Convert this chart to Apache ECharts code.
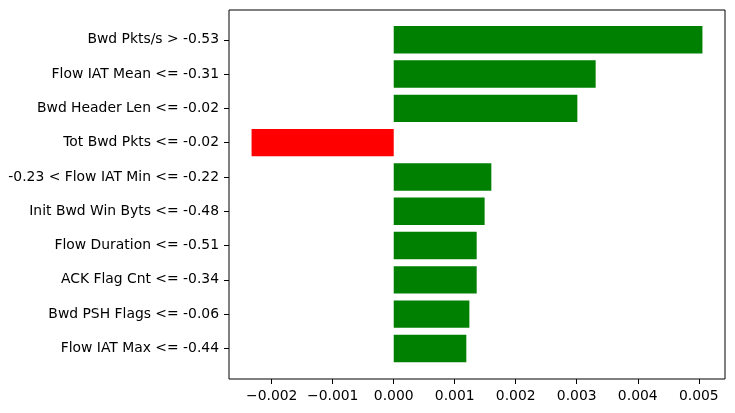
<!DOCTYPE html>
<html>
<head>
<meta charset="utf-8">
<script src="https://cdn.jsdelivr.net/npm/echarts@6/dist/echarts.min.js"></script>
<style>
html, body { margin: 0; padding: 0; background: #fff; }
#chart { width: 735px; height: 413px; }
</style>
</head>
<body>
<div id="chart"></div>
<script>
// feature conditions, top to bottom
var features = [
	'Bwd Pkts/s > -0.53',
	'Flow IAT Mean <= -0.31',
	'Bwd Header Len <= -0.02',
	'Tot Bwd Pkts <= -0.02',
	'-0.23 < Flow IAT Min <= -0.22',
	'Init Bwd Win Byts <= -0.48',
	'Flow Duration <= -0.51',
	'ACK Flag Cnt <= -0.34',
	'Bwd PSH Flags <= -0.06',
	'Flow IAT Max <= -0.44'
];
var weights = [0.00506, 0.00331, 0.00301, -0.00233, 0.00160, 0.00149, 0.00136, 0.00136, 0.00124, 0.00119];
var xTicks = [-0.002, -0.001, 0, 0.001, 0.002, 0.003, 0.004, 0.005];
var xMin = -0.0027, xMax = 0.00543;

var font = 'DejaVu Sans';
var fmt = function (v) { return v.toFixed(3).replace('-', '\u2212'); };

echarts.init(document.getElementById('chart')).setOption({
	animation: false,
	grid: [
		{ left: 229, right: 10, top: 10, bottom: 34, show: true, borderColor: '#000', borderWidth: 1, backgroundColor: 'transparent' },
		{ left: 229, right: 10, top: 22.6, bottom: 47.4 }
	],
	xAxis: [
		{
			gridIndex: 0, type: 'value', min: xMin, max: xMax,
			axisLine: { show: false },
			splitLine: { show: false },
			axisTick: { show: true, length: 5, lineStyle: { color: '#000' }, customValues: xTicks },
			axisLabel: { customValues: xTicks, formatter: fmt, color: '#000', fontFamily: font, fontSize: 13.9, margin: 10 }
		},
		{
			gridIndex: 1, type: 'value', min: xMin, max: xMax, show: false
		}
	],
	yAxis: [
		{ gridIndex: 0, type: 'value', min: 0, max: 1, show: false },
		{
			gridIndex: 1, type: 'category', data: features, inverse: true,
			axisLine: { show: false, onZero: false },
			axisTick: { show: true, alignWithLabel: true, length: 5, lineStyle: { color: '#000' } },
			axisLabel: { color: '#000', fontFamily: font, fontSize: 13.9, margin: 10, padding: [7, 0, 0, 0] }
		}
	],
	series: [{
		type: 'bar',
		xAxisIndex: 1,
		yAxisIndex: 1,
		barCategoryGap: '20%',
		data: weights.map(function (w) {
			return { value: w, itemStyle: { color: w < 0 ? '#ff0000' : '#008000' } };
		})
	}]
});
</script>
</body>
</html>
